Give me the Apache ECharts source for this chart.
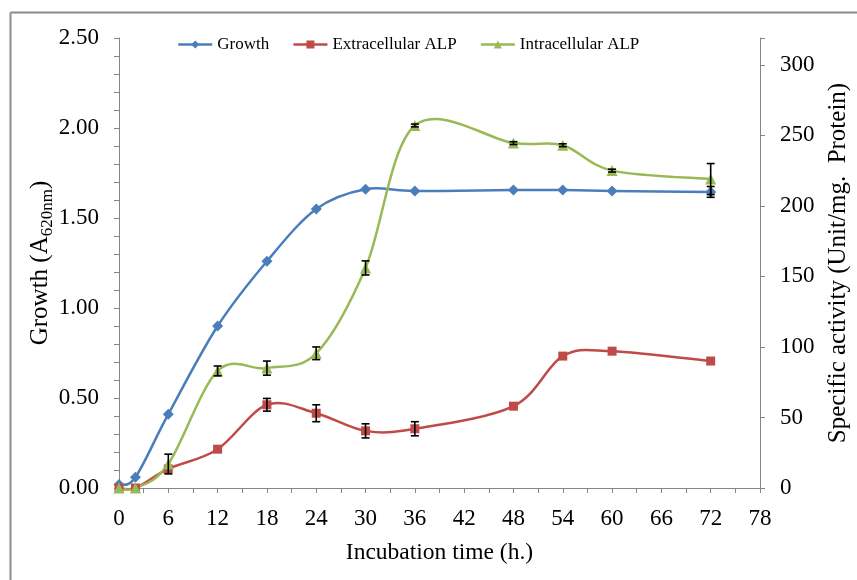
<!DOCTYPE html>
<html><head><meta charset="utf-8">
<script src="https://cdn.jsdelivr.net/npm/echarts@6/dist/echarts.min.js"></script>
<style>html,body{margin:0;padding:0;background:#fff}#c{width:857px;height:580px}</style>
</head><body><div id="c"></div>
<script>
// ---- data ----
const hours = [0, 2, 6, 12, 18, 24, 30, 36, 48, 54, 60, 72];
const growth = [0.02, 0.06, 0.41, 0.90, 1.26, 1.55, 1.66, 1.65, 1.655, 1.655, 1.65, 1.645];
const growthErr = [0, 0, 0, 0, 0, 0, 0, 0, 0, 0, 0, 0.03];
const extracellular = [0, 0, 13.5, 27.5, 59, 53, 40.5, 42, 58, 93.5, 97, 90];
const extracellularErr = [0, 0, 0, 0, 4.5, 6, 5, 5, 0, 0, 0, 0];
const intracellular = [0, 0, 17, 83, 85, 95.5, 156, 257, 244.5, 243, 225, 219];
const intracellularErr = [0, 0, 7, 3.5, 5, 4.5, 5, 1, 1, 1, 1, 11];
const seriesNames = ['Growth', 'Extracellular ALP', 'Intracellular ALP'];
const xAxisRange = [0, 78, 6];
const leftAxisRange = [0, 2.5, 0.5];
const rightAxisRange = [0, 319, 50];

const FONT = '"Liberation Serif", "Times New Roman", serif';
const AXIS = '#868686';
const colors = ['#4a7ebb', '#be4b48', '#98b954'];
const LW = 2.5;

function pairs(vals) { return hours.map((h, i) => [h, vals[i]]); }
function errPairs(vals, errs) {
  return hours.map((h, i) => [h, vals[i], errs[i]]).filter(d => d[2] > 0);
}
function errBar(params, api) {
  const x = api.value(0), y = api.value(1), e = api.value(2);
  const t = api.coord([x, y + e]), b = api.coord([x, y - e]);
  const w = 4;
  const st = { stroke: '#000', lineWidth: 1.6 };
  return { type: 'group', children: [
    { type: 'line', shape: { x1: t[0], y1: t[1], x2: b[0], y2: b[1] }, style: st },
    { type: 'line', shape: { x1: t[0] - w, y1: t[1], x2: t[0] + w, y2: t[1] }, style: st },
    { type: 'line', shape: { x1: b[0] - w, y1: b[1], x2: b[0] + w, y2: b[1] }, style: st }
  ]};
}
// Spreadsheet-style (Catmull-Rom) smoothed curve through the data points, via the axes' scales
function curveRenderer(vals, color) {
  return function (params, api) {
    if (params.dataIndex !== 0) return;
    const p = hours.map((h, i) => api.coord([h, vals[i]]));
    const n = p.length;
    let d = 'M' + p[0][0] + ',' + p[0][1];
    for (let i = 0; i < n - 1; i++) {
      const p0 = p[Math.max(i - 1, 0)], p1 = p[i], p2 = p[i + 1], p3 = p[Math.min(i + 2, n - 1)];
      const c1x = p1[0] + (p2[0] - p0[0]) / 6, c1y = p1[1] + (p2[1] - p0[1]) / 6;
      const c2x = p2[0] - (p3[0] - p1[0]) / 6, c2y = p2[1] - (p3[1] - p1[1]) / 6;
      d += ' C' + c1x + ',' + c1y + ' ' + c2x + ',' + c2y + ' ' + p2[0] + ',' + p2[1];
    }
    return { type: 'path', shape: { pathData: d },
      style: { stroke: color, lineWidth: LW, fill: 'none', lineJoin: 'round', lineCap: 'round' } };
  };
}

const chart = echarts.init(document.getElementById('c'), null, { renderer: 'canvas' });
const markerBase = { type: 'line', lineStyle: { width: LW, opacity: 0 }, z: 4 };
chart.setOption({
  animation: false,
  backgroundColor: '#fff',
  textStyle: { fontFamily: FONT, color: '#000' },
  legend: {
    data: seriesNames.map((nm, i) => ({ name: nm, lineStyle: { color: colors[i], width: LW, opacity: 1 } })),
    left: 172, top: 31, itemWidth: 34, itemHeight: 10, itemGap: 23,
    textStyle: { fontFamily: FONT, fontSize: 17, color: '#000' }
  },
  grid: { left: 119, right: 97, top: 38, bottom: 92, containLabel: false, outerBoundsMode: 'none' },
  xAxis: {
    type: 'value', min: xAxisRange[0], max: xAxisRange[1], interval: xAxisRange[2],
    name: 'Incubation time (h.)', nameLocation: 'middle', nameGap: 53, nameMoveOverlap: false,
    nameTextStyle: { fontFamily: FONT, fontSize: 23.5, color: '#000' },
    axisLine: { lineStyle: { color: AXIS, width: 1 } },
    axisTick: { length: 5, lineStyle: { color: AXIS } },
    minorTick: { show: true, splitNumber: 2, length: 5, lineStyle: { color: AXIS } },
    splitLine: { show: false },
    axisLabel: { fontFamily: FONT, fontSize: 23, color: '#000', margin: 19 }
  },
  yAxis: [{
    type: 'value', min: leftAxisRange[0], max: leftAxisRange[1], interval: leftAxisRange[2],
    name: '{a|Growth (A}{s|620nm}{a|)}', nameLocation: 'middle', nameGap: 63, nameRotate: 90, nameMoveOverlap: false,
    nameTextStyle: { rich: {
      a: { fontFamily: FONT, fontSize: 25, color: '#000', lineHeight: 32, verticalAlign: 'middle' },
      s: { fontFamily: FONT, fontSize: 17, color: '#000', lineHeight: 32, verticalAlign: 'bottom' }
    } },
    axisLine: { show: true, lineStyle: { color: AXIS, width: 1 } },
    axisTick: { show: true, length: 5, lineStyle: { color: AXIS } },
    minorTick: { show: true, splitNumber: 5, length: 5, lineStyle: { color: AXIS } },
    splitLine: { show: false },
    axisLabel: { fontFamily: FONT, fontSize: 23, color: '#000', margin: 20, formatter: v => v.toFixed(2) }
  }, {
    type: 'value', position: 'right', min: rightAxisRange[0], max: rightAxisRange[1], interval: rightAxisRange[2],
    name: 'Specific activity (Unit/mg.  Protein)', nameLocation: 'middle', nameGap: 66, nameRotate: 90, nameMoveOverlap: false,
    nameTextStyle: { fontFamily: FONT, fontSize: 25, color: '#000' },
    axisLine: { show: true, lineStyle: { color: AXIS, width: 1 } },
    axisTick: { show: true, length: 5, lineStyle: { color: AXIS } },
    splitLine: { show: false },
    axisLabel: { fontFamily: FONT, fontSize: 23, color: '#000', margin: 20,
      formatter: v => (v % rightAxisRange[2] === 0 ? String(v) : '') }
  }],
  series: [
    { type: 'custom', yAxisIndex: 0, data: pairs(growth), renderItem: curveRenderer(growth, colors[0]), z: 2, silent: true },
    { type: 'custom', yAxisIndex: 1, data: pairs(extracellular), renderItem: curveRenderer(extracellular, colors[1]), z: 2, silent: true },
    { type: 'custom', yAxisIndex: 1, data: pairs(intracellular), renderItem: curveRenderer(intracellular, colors[2]), z: 2, silent: true },
    Object.assign({}, markerBase, { name: seriesNames[0], yAxisIndex: 0, data: pairs(growth),
      color: colors[0], symbol: 'diamond', symbolSize: 11 }),
    Object.assign({}, markerBase, { name: seriesNames[1], yAxisIndex: 1, data: pairs(extracellular),
      color: colors[1], symbol: 'rect', symbolSize: 9 }),
    Object.assign({}, markerBase, { name: seriesNames[2], yAxisIndex: 1, data: pairs(intracellular),
      color: colors[2], symbol: 'triangle', symbolSize: 11 }),
    { type: 'custom', yAxisIndex: 0, data: errPairs(growth, growthErr), renderItem: errBar, z: 10, silent: true },
    { type: 'custom', yAxisIndex: 1, data: errPairs(extracellular, extracellularErr), renderItem: errBar, z: 10, silent: true },
    { type: 'custom', yAxisIndex: 1, data: errPairs(intracellular, intracellularErr), renderItem: errBar, z: 10, silent: true }
  ],
  graphic: [
    { type: 'line', shape: { x1: 10.5, y1: 12.5, x2: 10.5, y2: 580 }, style: { stroke: '#8c8c8c', lineWidth: 2 } },
    { type: 'line', shape: { x1: 10.5, y1: 12.5, x2: 857, y2: 12.5 }, style: { stroke: '#8c8c8c', lineWidth: 2 } }
  ]
});
</script></body></html>
